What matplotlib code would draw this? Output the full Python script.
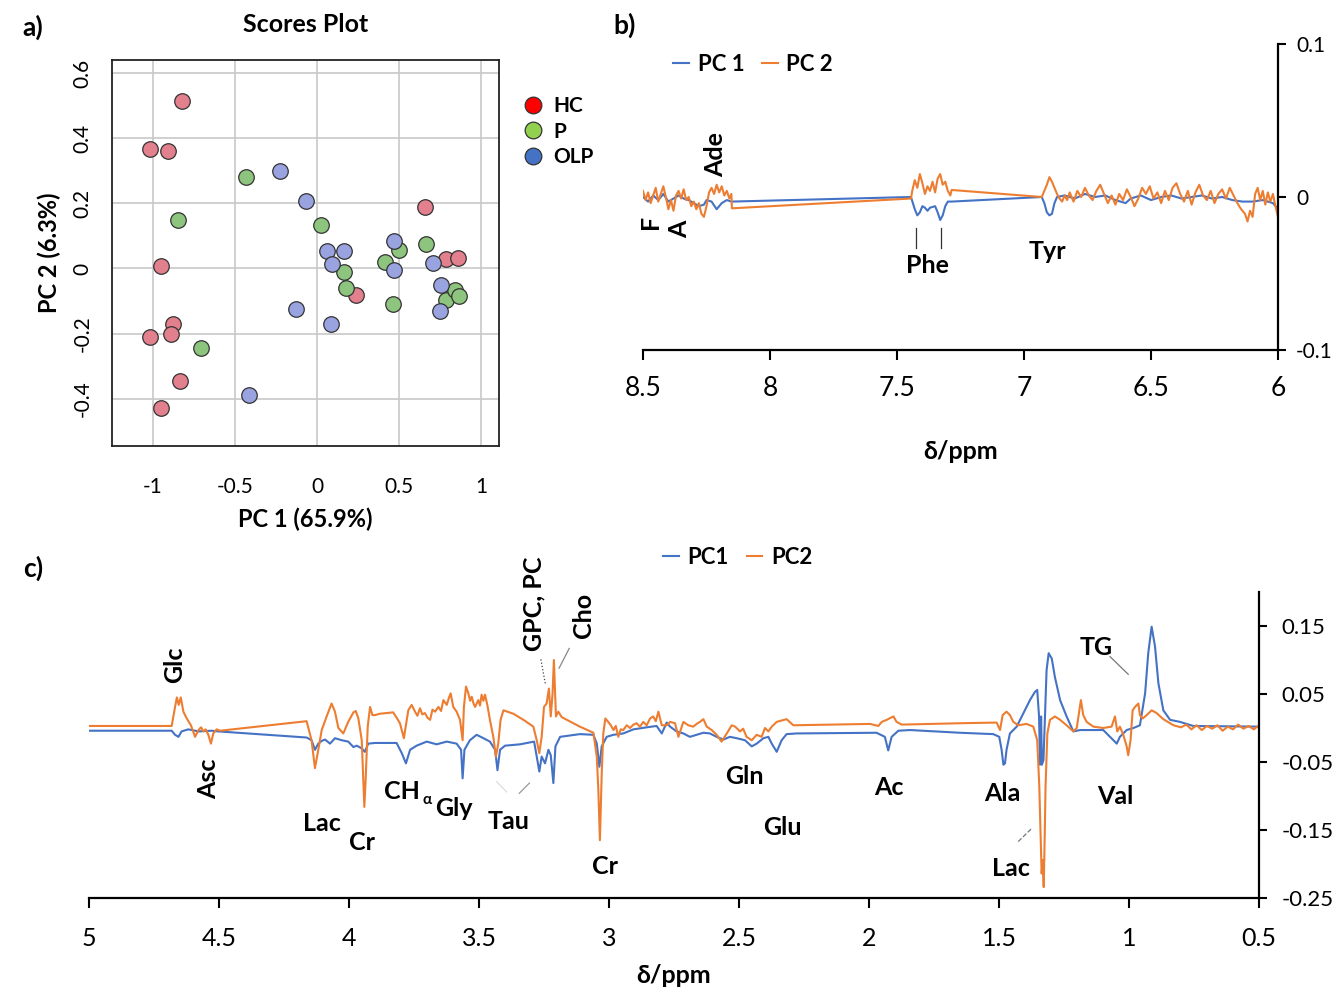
import matplotlib
matplotlib.use('Agg')
import matplotlib.pyplot as plt
from matplotlib.lines import Line2D

plt.rcParams['font.family'] = ['Lato', 'DejaVu Sans']

# ---------------- Panel a: PCA scores ----------------
groups = ['HC', 'P', 'OLP']
legend_colors = ['#ff0000', '#92d050', '#4472c4']
point_colors = ['#e3808e', '#8dc47e', '#98a3e0']
hc_pc1 = [-0.826, -1.019, -0.906, -0.954, -0.877, -1.019, -0.893, -0.833, -0.952, 0.656, 0.789, 0.857, 0.235]
hc_pc2 = [0.515, 0.367, 0.362, 0.008, -0.169, -0.210, -0.200, -0.345, -0.428, 0.188, 0.028, 0.033, -0.080]
p_pc1 = [-0.433, -0.850, -0.707, 0.027, 0.167, 0.174, 0.414, 0.499, 0.666, 0.462, 0.789, 0.843, 0.864]
p_pc2 = [0.280, 0.148, -0.245, 0.133, -0.011, -0.061, 0.021, 0.058, 0.076, -0.110, -0.098, -0.066, -0.083]
olp_pc1 = [-0.225, -0.070, 0.061, 0.165, 0.092, 0.470, 0.472, 0.709, 0.758, 0.753, -0.126, 0.087, -0.414]
olp_pc2 = [0.299, 0.206, 0.053, 0.053, 0.013, 0.083, -0.005, 0.016, -0.050, -0.131, -0.123, -0.172, -0.387]
a_xticks = [-1, -0.5, 0, 0.5, 1]
a_xticklabels = ['-1', '-0.5', '0', '0.5', '1']
a_yticks = [-0.4, -0.2, 0, 0.2, 0.4, 0.6]
a_yticklabels = ['-0.4', '-0.2', '0', '0.2', '0.4', '0.6']

# ---------------- Panel b: aromatic loadings ----------------
b_ppm_pc1 = [8.50, 8.48, 8.46, 8.44, 8.42, 8.40, 8.38, 8.36, 8.34, 8.32, 8.30, 8.28, 8.26, 8.25, 8.23,
             8.21, 8.19, 8.17, 8.152,
             7.445, 7.43, 7.42, 7.41, 7.40, 7.39, 7.38, 7.37, 7.35, 7.34, 7.33, 7.32, 7.31, 7.30, 7.285,
             6.93, 6.92, 6.91, 6.90, 6.89, 6.88, 6.87, 6.84, 6.80, 6.76, 6.72, 6.68, 6.64, 6.60, 6.58,
             6.54, 6.50, 6.46, 6.42, 6.38, 6.34, 6.30, 6.26, 6.22, 6.18, 6.14, 6.10, 6.06, 6.02, 6.00]
b_pc1 = [0.000, -0.003, 0.001, -0.002, 0.002, -0.003, -0.001, 0.001, -0.001, -0.002, -0.004, -0.006, -0.005,
         -0.002, -0.003, -0.008, -0.004, -0.002, -0.003,
         0.000, -0.008, -0.012, -0.010, -0.006, -0.007, -0.009, -0.007, -0.006, -0.010, -0.015, -0.012,
         -0.006, -0.003, -0.003,
         0.000, -0.004, -0.010, -0.012, -0.011, -0.004, 0.000, 0.001, -0.001, 0.002, 0.000, 0.001, -0.002,
         -0.004, -0.001, 0.001, -0.002, 0.000, 0.001, -0.001, 0.000, 0.001, -0.001, 0.000, -0.002, -0.003,
         -0.003, -0.002, -0.004, -0.008]
b_ppm_pc2 = [8.50, 8.49, 8.48, 8.47, 8.46, 8.45, 8.44, 8.43, 8.42, 8.41, 8.40, 8.39, 8.38, 8.37, 8.36,
             8.35, 8.34, 8.33, 8.32, 8.31, 8.30, 8.29, 8.28, 8.27, 8.26, 8.25, 8.24, 8.23, 8.22, 8.21,
             8.20, 8.19, 8.18, 8.17, 8.16, 8.152, 8.150,
             7.445, 7.44, 7.43, 7.42, 7.41, 7.40, 7.39, 7.38, 7.37, 7.36, 7.35, 7.34, 7.33, 7.32, 7.31,
             7.30, 7.29, 7.285,
             6.93, 6.92, 6.91, 6.90, 6.89, 6.88, 6.87, 6.86, 6.85, 6.84, 6.83,
             6.82, 6.805, 6.79, 6.775, 6.76, 6.745, 6.73, 6.715, 6.70, 6.685, 6.67, 6.655, 6.64, 6.625,
             6.61, 6.595, 6.58, 6.565, 6.55, 6.535, 6.52, 6.505, 6.49, 6.475, 6.46, 6.445, 6.43, 6.415,
             6.40, 6.385, 6.37, 6.355, 6.34, 6.325, 6.31, 6.295, 6.28, 6.265, 6.25, 6.235, 6.22, 6.205,
             6.19, 6.175, 6.16, 6.145, 6.13, 6.12, 6.11, 6.10, 6.09, 6.08, 6.07, 6.06, 6.05, 6.04, 6.03,
             6.02, 6.01, 6.00]
b_pc2 = [0.004, -0.002, 0.003, -0.004, 0.001, 0.006, -0.003, 0.002, 0.007, 0.000, -0.008, -0.002, -0.009,
         0.001, 0.004, -0.001, 0.005, -0.002, 0.000, -0.006, -0.003, -0.008, -0.004, -0.011, -0.013, -0.006,
         0.003, 0.006, 0.002, 0.008, 0.003, 0.007, 0.001, 0.004, -0.001, 0.002, -0.0074,
         -0.001, 0.004, 0.011, 0.006, 0.015, 0.009, 0.002, 0.007, 0.004, 0.010, 0.003, 0.012, 0.015, 0.008,
         0.010, 0.004, 0.001, 0.0046,
         0.000, 0.004, 0.008, 0.013, 0.010, 0.006, 0.002, -0.001, -0.003, 0.001, -0.002,
         0.003, -0.003, 0.004, 0.000, 0.006, 0.001, -0.002, 0.004, 0.008, 0.002, -0.004, 0.001, -0.005,
         0.002, -0.002, 0.005, 0.000, -0.006, -0.001, 0.006, 0.002, 0.007, -0.001, 0.003, -0.004, 0.004,
         -0.002, 0.006, 0.009, 0.002, -0.003, 0.004, -0.005, 0.003, 0.008, 0.001, -0.002, 0.004, -0.004,
         0.002, 0.005, -0.001, 0.006, 0.001, -0.004, -0.008, -0.011, -0.016, -0.009, -0.013, 0.002, 0.006,
         -0.002, 0.004, -0.005, 0.003, -0.003, 0.002, -0.006, -0.013]
b_xticks = [8.5, 8, 7.5, 7, 6.5, 6]
b_xticklabels = ['8.5', '8', '7.5', '7', '6.5', '6']
b_yticks = [-0.1, 0, 0.1]
b_yticklabels = ['-0.1', '0', '0.1']

# ---------------- Panel c: aliphatic loadings ----------------
c_ppm_pc1 = [5.000, 4.682, 4.669, 4.656, 4.644, 4.618, 4.579, 4.528, 4.503, 4.163, 4.144, 4.131, 4.118,
             4.105, 4.092, 4.073, 4.054, 4.028, 4.003, 3.983, 3.970, 3.951, 3.939, 3.926, 3.900, 3.881,
             3.817, 3.797, 3.781, 3.765, 3.740, 3.701, 3.663, 3.624, 3.586, 3.569, 3.563, 3.556, 3.535,
             3.509, 3.483, 3.458, 3.438, 3.429, 3.419, 3.400, 3.342, 3.288, 3.278, 3.268, 3.259, 3.246,
             3.233, 3.224, 3.214, 3.206, 3.188, 3.112, 3.060, 3.047, 3.037, 3.028, 3.009, 2.983, 2.945,
             2.906, 2.855, 2.817, 2.797, 2.778, 2.765, 2.740, 2.714, 2.689, 2.663, 2.637, 2.612, 2.586,
             2.560, 2.535, 2.509, 2.477, 2.451, 2.432, 2.406, 2.387, 2.374, 2.355, 2.336, 2.317, 2.278,
             1.971, 1.939, 1.926, 1.913, 1.887, 1.842, 1.650, 1.522, 1.499, 1.490, 1.483, 1.477, 1.471,
             1.458, 1.432, 1.406, 1.381, 1.362, 1.353, 1.346, 1.342, 1.338, 1.335, 1.329, 1.323, 1.317,
             1.309, 1.297, 1.285, 1.265, 1.240, 1.214, 1.188, 1.163, 1.099, 1.060, 1.047, 1.035, 1.009,
             0.983, 0.958, 0.938, 0.926, 0.913, 0.900, 0.887, 0.868, 0.842, 0.804, 0.753, 0.500]
c_pc1 = [-0.004, -0.004, -0.010, -0.013, -0.005, -0.002, -0.005, -0.004, -0.005, -0.014, -0.018, -0.032,
         -0.023, -0.019, -0.017, -0.023, -0.015, -0.018, -0.020, -0.028, -0.026, -0.030, -0.035, -0.023,
         -0.022, -0.022, -0.022, -0.037, -0.052, -0.032, -0.026, -0.020, -0.024, -0.020, -0.023, -0.032,
         -0.074, -0.032, -0.018, -0.010, -0.015, -0.020, -0.032, -0.062, -0.032, -0.026, -0.024, -0.020,
         -0.042, -0.064, -0.042, -0.052, -0.032, -0.040, -0.081, -0.027, -0.013, -0.009, -0.010, -0.023,
         -0.057, -0.027, -0.013, -0.010, -0.008, -0.002, 0.001, 0.003, -0.008, 0.008, 0.002, -0.005,
         -0.008, -0.013, -0.010, -0.007, -0.008, -0.013, -0.017, -0.013, -0.015, -0.018, -0.027, -0.023,
         -0.015, -0.013, -0.023, -0.035, -0.018, -0.009, -0.008, -0.007, -0.013, -0.033, -0.013, -0.004,
         -0.003, -0.007, -0.009, -0.013, -0.032, -0.054, -0.052, -0.032, -0.008, 0.002, 0.022, 0.041,
         0.053, 0.056, 0.017, -0.054, 0.017, -0.054, -0.047, 0.017, 0.085, 0.110, 0.102, 0.075, 0.041,
         0.017, -0.005, -0.003, -0.003, -0.003, -0.018, -0.023, -0.013, -0.003, 0.000, 0.004, 0.051,
         0.110, 0.149, 0.120, 0.066, 0.026, 0.012, 0.009, 0.003, 0.002]
c_ppm_pc2 = [5.000, 4.682, 4.669, 4.662, 4.655, 4.647, 4.637, 4.624, 4.608, 4.592, 4.579, 4.569, 4.560,
             4.551, 4.541, 4.531, 4.522, 4.509, 4.496, 4.163, 4.144, 4.131, 4.118, 4.105, 4.086, 4.067,
             4.054, 4.041, 4.022, 4.003, 3.983, 3.974, 3.964, 3.951, 3.945, 3.941, 3.936, 3.928, 3.919,
             3.910, 3.900, 3.881, 3.855, 3.830, 3.815, 3.804, 3.789, 3.772, 3.759, 3.746, 3.737, 3.727,
             3.718, 3.708, 3.698, 3.688, 3.679, 3.669, 3.656, 3.646, 3.637, 3.624, 3.616, 3.609, 3.599,
             3.586, 3.573, 3.563, 3.558, 3.550, 3.541, 3.534, 3.528, 3.521, 3.515, 3.503, 3.496, 3.490,
             3.483, 3.477, 3.468, 3.458, 3.445, 3.435, 3.426, 3.417, 3.406, 3.368, 3.329, 3.291, 3.278,
             3.268, 3.259, 3.250, 3.240, 3.231, 3.224, 3.217, 3.212, 3.204, 3.195, 3.182, 3.112, 3.060,
             3.047, 3.041, 3.035, 3.028, 3.022, 3.014, 3.003, 2.993, 2.983, 2.974, 2.964, 2.955, 2.945,
             2.932, 2.919, 2.906, 2.894, 2.881, 2.868, 2.855, 2.842, 2.830, 2.820, 2.810, 2.797, 2.778,
             2.765, 2.746, 2.733, 2.714, 2.695, 2.676, 2.663, 2.650, 2.637, 2.624, 2.605, 2.586, 2.567,
             2.547, 2.528, 2.515, 2.496, 2.484, 2.471, 2.451, 2.432, 2.413, 2.400, 2.387, 2.374, 2.355,
             2.336, 2.317, 2.291, 1.996, 1.964, 1.951, 1.932, 1.906, 1.894, 1.874, 1.650, 1.509, 1.496,
             1.486, 1.471, 1.458, 1.445, 1.426, 1.394, 1.368, 1.353, 1.345, 1.340, 1.336, 1.332, 1.328,
             1.324, 1.321, 1.314, 1.304, 1.285, 1.265, 1.240, 1.214, 1.201, 1.191, 1.185, 1.176, 1.163,
             1.137, 1.099, 1.067, 1.054, 1.045, 1.035, 1.022, 1.009, 1.003, 0.994, 0.986, 0.977, 0.964,
             0.958, 0.947, 0.932, 0.913, 0.894, 0.868, 0.829, 0.80, 0.78, 0.76, 0.74, 0.72, 0.70, 0.68,
             0.66, 0.64, 0.62, 0.60, 0.58, 0.56, 0.54, 0.52, 0.50]
c_pc2 = [0.003, 0.003, 0.031, 0.045, 0.034, 0.045, 0.024, 0.014, 0.004, -0.013, -0.003, 0.001, -0.005,
         -0.002, -0.010, -0.023, -0.008, -0.002, -0.004, 0.010, -0.018, -0.059, -0.032, -0.003, 0.017,
         0.036, 0.024, 0.000, -0.008, 0.009, 0.023, 0.025, 0.014, -0.018, -0.076, -0.116, -0.076, 0.002,
         0.031, 0.019, 0.019, 0.021, 0.022, 0.023, 0.014, 0.007, -0.015, 0.026, 0.034, 0.024, 0.018, 0.029,
         0.020, 0.022, 0.015, 0.012, 0.027, 0.024, 0.031, 0.025, 0.041, 0.034, 0.044, 0.051, 0.031,
         0.024, 0.012, -0.018, 0.031, 0.061, 0.051, 0.040, 0.046, 0.036, 0.031, 0.041, 0.033, 0.049,
         0.040, 0.049, 0.034, 0.012, -0.013, -0.042, -0.023, 0.012, 0.026, 0.021, 0.012, 0.002, -0.018,
         -0.037, -0.013, 0.031, 0.036, 0.058, 0.017, 0.051, 0.100, 0.017, 0.024, 0.016, 0.002, -0.007,
         -0.042, -0.091, -0.165, -0.067, -0.008, 0.014, 0.009, 0.004, -0.003, 0.003, -0.013, -0.002, -0.003,
         0.004, 0.000, 0.005, 0.007, 0.002, 0.009, 0.004, 0.014, 0.017, 0.010, 0.024, 0.004, 0.004,
         0.009, 0.007, -0.013, 0.009, 0.004, 0.002, 0.006, 0.009, 0.013, 0.002, -0.003, -0.010, -0.020,
         -0.008, 0.004, 0.002, -0.005, -0.001, -0.013, -0.018, -0.010, -0.013, 0.000, -0.005, 0.002, 0.009,
         0.011, 0.013, 0.004, 0.006, 0.003, 0.009, 0.012, 0.017, 0.009, 0.005, 0.007, 0.008, -0.003,
         0.019, 0.024, 0.019, 0.009, 0.004, 0.006, 0.002, -0.018, -0.086, -0.155, -0.214, -0.194, -0.234,
         -0.155, -0.086, -0.008, 0.012, 0.017, 0.012, 0.004, -0.005, 0.000, 0.026, 0.041, 0.019, 0.009,
         0.002, 0.000, 0.002, 0.017, -0.005, 0.002, -0.010, -0.027, -0.040, -0.018, 0.026, 0.031, 0.036,
         0.019, 0.014, 0.019, 0.026, 0.022, 0.013, 0.004, 0.001, 0.005, -0.002, 0.004, -0.003, 0.003, -0.001,
         0.004, -0.004, 0.002, -0.002, 0.005, -0.001, 0.003, -0.002, 0.004]
c_xticks = [5, 4.5, 4, 3.5, 3, 2.5, 2, 1.5, 1, 0.5]
c_xticklabels = ['5', '4.5', '4', '3.5', '3', '2.5', '2', '1.5', '1', '0.5']
c_yticks = [-0.25, -0.15, -0.05, 0.05, 0.15]
c_yticklabels = ['-0.25', '-0.15', '-0.05', '0.05', '0.15']

BLUE = '#4472c4'
ORANGE = '#ed7d31'

W, H = 1334, 989
fig = plt.figure(figsize=(W / 100, H / 100), dpi=100)


def fr(x0, y0, x1, y1):
    return [x0 / W, 1 - y1 / H, (x1 - x0) / W, (y1 - y0) / H]


# ---------- a ----------
axa = fig.add_axes(fr(112, 60, 499, 446))
for xs, ys, col in [(hc_pc1, hc_pc2, point_colors[0]), (p_pc1, p_pc2, point_colors[1]),
                    (olp_pc1, olp_pc2, point_colors[2])]:
    axa.scatter(xs, ys, s=125, facecolor=col, edgecolor='#333333', linewidth=0.9, zorder=3)
axa.set_xlim(-1.25, 1.11)
axa.set_ylim(-0.545, 0.64)
axa.set_xticks(a_xticks)
axa.set_xticklabels(a_xticklabels)
axa.set_yticks(a_yticks)
axa.set_yticklabels(a_yticklabels, rotation=90, va='center')
axa.tick_params(length=0, labelsize=15, pad=22)
axa.tick_params(axis='y', pad=14)
axa.grid(True, color='#c8c8c8', linewidth=1.2)
axa.set_axisbelow(True)
for sp in axa.spines.values():
    sp.set_linewidth(1.3)
    sp.set_color('#222222')
axa.set_title('Scores Plot', fontsize=18, fontweight='bold', pad=20)
axa.set_xlabel('PC 1 (65.9%)', fontsize=17, fontweight='bold', labelpad=8)
axa.set_ylabel('PC 2 (6.3%)', fontsize=17, fontweight='bold', labelpad=8)
handles = [Line2D([], [], linestyle='none', marker='o', markersize=12, markerfacecolor=c,
                  markeredgecolor='#333333', markeredgewidth=0.9) for c in legend_colors]
leg = fig.legend(handles, groups, loc='upper left', bbox_to_anchor=(512 / W, 1 - 86 / H),
                 frameon=False, handletextpad=0.5, labelspacing=0.25, borderpad=0,
                 prop={'size': 15, 'weight': 'bold'}, handlelength=1.0)

# ---------- b ----------
axb = fig.add_axes(fr(643, 44, 1278, 350))
axb.plot(b_ppm_pc1, b_pc1, color=BLUE, lw=1.5, label='PC 1')
axb.plot(b_ppm_pc2, b_pc2, color=ORANGE, lw=1.5, label='PC 2')
axb.set_xlim(8.5, 6)
axb.set_ylim(-0.1, 0.1)
axb.spines['left'].set_visible(False)
axb.spines['top'].set_visible(False)
axb.spines['right'].set_linewidth(1.6)
axb.spines['bottom'].set_linewidth(1.6)
axb.yaxis.tick_right()
axb.set_xticks(b_xticks)
axb.set_xticklabels(b_xticklabels)
axb.set_yticks(b_yticks)
axb.set_yticklabels(b_yticklabels)
axb.tick_params(axis='x', direction='out', length=7, width=1.5, labelsize=19, pad=12)
axb.tick_params(axis='y', direction='out', length=6, width=1.5, labelsize=15, pad=7)
axb.set_xlabel('δ/ppm', fontsize=18, fontweight='bold', labelpad=28)
axb.legend(loc='upper left', ncol=2, frameon=False,
           handlelength=0.7, handletextpad=0.4, columnspacing=0.8, borderpad=0,
           prop={'size': 16, 'weight': 'bold'})
axb.get_legend().set_bbox_to_anchor((662 / W, 1 - 43 / H), transform=fig.transFigure)
tb = dict(fontsize=18, fontweight='bold', ha='center', va='center')
axb.text(8.469, -0.0163, 'F', rotation=90, **tb)
axb.text(8.354, -0.021, 'A', rotation=90, **tb)
axb.text(8.213, 0.0275, 'Ade', rotation=90, **tb)
axb.text(7.382, -0.045, 'Phe', **tb)
axb.text(6.906, -0.0353, 'Tyr', **tb)
axb.plot([7.425, 7.425], [-0.0203, -0.0333], color='#333333', lw=0.9)
axb.plot([7.327, 7.327], [-0.0203, -0.0333], color='#333333', lw=0.9)

# ---------- c ----------
axc = fig.add_axes(fr(89, 592, 1259, 898))
axc.plot(c_ppm_pc1, c_pc1, color=BLUE, lw=1.5, label='PC1')
axc.plot(c_ppm_pc2, c_pc2, color=ORANGE, lw=1.5, label='PC2')
axc.set_xlim(5, 0.5)
axc.set_ylim(-0.25, 0.2)
axc.spines['left'].set_visible(False)
axc.spines['top'].set_visible(False)
axc.spines['right'].set_linewidth(1.6)
axc.spines['bottom'].set_linewidth(1.6)
axc.yaxis.tick_right()
axc.set_xticks(c_xticks)
axc.set_xticklabels(c_xticklabels)
axc.set_yticks(c_yticks)
axc.set_yticklabels(c_yticklabels)
axc.tick_params(axis='x', direction='out', length=7, width=1.5, labelsize=18, pad=14)
axc.tick_params(axis='y', direction='out', length=6, width=1.5, labelsize=16, pad=10)
axc.set_xlabel('δ/ppm', fontsize=18, fontweight='bold', labelpad=10)
axc.legend(loc='upper left', ncol=2, frameon=False,
           handlelength=0.7, handletextpad=0.4, columnspacing=0.8, borderpad=0,
           prop={'size': 16, 'weight': 'bold'})
axc.get_legend().set_bbox_to_anchor((652 / W, 1 - 536 / H), transform=fig.transFigure)
tc = dict(fontsize=18, fontweight='bold', ha='center', va='center', clip_on=False)
axc.text(4.669, 0.093, 'Glc', rotation=90, **tc)
axc.text(4.538, -0.074, 'Asc', rotation=90, **tc)
axc.text(4.104, -0.140, 'Lac', **tc)
axc.text(3.950, -0.169, 'Cr', **tc)
axc.text(3.795, -0.093, 'CH', **tc)
axc.text(3.700, -0.106, 'α', fontsize=11, fontweight='bold', ha='center', va='center')
axc.text(3.595, -0.119, 'Gly', **tc)
axc.text(3.385, -0.138, 'Tau', **tc)
axc.text(3.015, -0.204, 'Cr', **tc)
axc.text(3.288, 0.182, 'GPC, PC', rotation=90, **tc)
axc.text(3.100, 0.166, 'Cho', rotation=90, **tc)
axc.text(2.481, -0.071, 'Gln', **tc)
axc.text(2.335, -0.146, 'Glu', **tc)
axc.text(1.923, -0.087, 'Ac', **tc)
axc.text(1.488, -0.097, 'Ala', **tc)
axc.text(1.454, -0.206, 'Lac', **tc)
axc.text(1.054, -0.100, 'Val', **tc)
axc.text(1.127, 0.119, 'TG', **tc)
axc.plot([3.432, 3.394], [-0.079, -0.094], color='#dddddd', lw=0.9)
axc.plot([3.345, 3.306], [-0.096, -0.081], color='#999999', lw=0.9)
axc.plot([3.262, 3.244], [0.101, 0.063], color='#444444', lw=0.9, linestyle=':')
axc.plot([3.153, 3.192], [0.117, 0.088], color='#888888', lw=0.9)
axc.plot([1.426, 1.375], [-0.167, -0.148], color='#777777', lw=0.9, linestyle='--')
axc.plot([1.073, 1.003], [0.105, 0.079], color='#777777', lw=0.9)

# panel letters
fig.text(33 / W, 1 - 27 / H, 'a)', fontsize=19, fontweight='bold', ha='center', va='center')
fig.text(625 / W, 1 - 25 / H, 'b)', fontsize=19, fontweight='bold', ha='center', va='center')
fig.text(33 / W, 1 - 568 / H, 'c)', fontsize=19, fontweight='bold', ha='center', va='center')

fig.savefig('out.png', dpi=100)
